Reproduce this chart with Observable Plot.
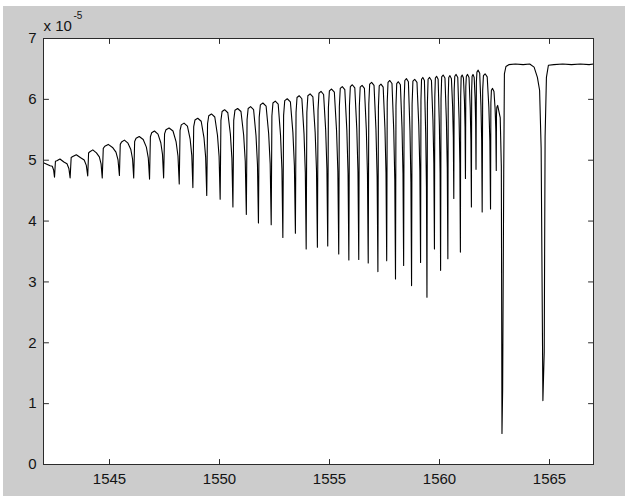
<!DOCTYPE html>
<html>
<head>
<meta charset="utf-8">
<script src="https://cdn.jsdelivr.net/npm/d3@7"></script>
<script src="https://cdn.jsdelivr.net/npm/@observablehq/plot@0.6"></script>
<style>
  html, body { margin: 0; padding: 0; background: #ffffff; }
  #fig { position: absolute; left: 3px; top: 6px; width: 622px; height: 490px; background: #cccccc; }
  #fig svg { display: block; }
  #fig svg text { font-size: 15px; fill: #141414; }
  #fig svg .expo text { font-size: 10px; }
</style>
</head>
<body>
<div id="fig"></div>
<script>
// Transmitted power (units of 1e-5) versus wavelength (nm) through a gas cell.
// Each absorption line is given by its centre, its minimum, and the plateau top after it.
const lineNm = [
  1542.50, 1543.21, 1544.01, 1544.67, 1545.45, 1546.10, 1546.82, 1547.46, 1548.17, 1548.79,
  1549.42, 1550.03, 1550.61, 1551.22, 1551.77, 1552.35, 1552.88, 1553.45, 1553.94, 1554.45,
  1554.92, 1555.42, 1555.88, 1556.33, 1556.76, 1557.20, 1557.60, 1558.00, 1558.37, 1558.73,
  1559.14, 1559.43, 1559.77, 1560.05, 1560.38, 1560.65, 1560.95, 1561.18, 1561.45, 1561.66,
  1561.94, 1562.32, 1562.58
];
const lineMin = [
  4.72, 4.71, 4.74, 4.71, 4.75, 4.71, 4.69, 4.71, 4.61, 4.55,
  4.42, 4.36, 4.23, 4.11, 3.97, 3.94, 3.73, 3.80, 3.54, 3.57,
  3.59, 3.46, 3.36, 3.37, 3.31, 3.17, 3.35, 3.05, 3.27, 2.94,
  3.32, 2.75, 3.54, 3.19, 3.38, 4.37, 3.49, 4.70, 4.23, 4.85,
  4.15, 4.20, 4.83
];
const topAfter = [
  5.02, 5.09, 5.17, 5.26, 5.33, 5.39, 5.48, 5.53, 5.61, 5.69,
  5.76, 5.83, 5.85, 5.88, 5.94, 5.97, 6.01, 6.06, 6.09, 6.13,
  6.17, 6.21, 6.24, 6.23, 6.28, 6.25, 6.31, 6.29, 6.34, 6.33,
  6.36, 6.36, 6.38, 6.40, 6.39, 6.41, 6.40, 6.41, 6.41, 6.48,
  6.42, 6.18, 5.90
];
const startNm = 1542.0;
const startLevel = 4.96;

// Two strong lines past the comb, and the flat band edge after them.
const tailNm = [
  1562.76, 1562.81, 1562.84, 1562.87, 1562.92, 1562.95, 1563.02, 1563.15, 1563.45, 1563.80,
  1564.10, 1564.30, 1564.45, 1564.55, 1564.62, 1564.70, 1564.76, 1564.80, 1564.86, 1564.95,
  1565.20, 1565.60, 1566.00, 1566.40, 1566.80, 1567.00
];
const tailVal = [
  5.70, 4.90, 0.51, 1.22, 4.80, 6.42, 6.54, 6.57, 6.58, 6.57,
  6.58, 6.53, 6.36, 6.15, 5.20, 1.05, 1.85, 5.38, 6.36, 6.56,
  6.57, 6.58, 6.57, 6.58, 6.57, 6.58
];

const xTicks = [1545, 1550, 1555, 1560, 1565];
const yTicks = [0, 1, 2, 3, 4, 5, 6, 7];
const exponentText = "-5";

// Build the trace: plateau, steep notch down to each line minimum, quick recovery.
const trace = [{nm: startNm, p: startLevel}];
let prevX = startNm, prevTop = startLevel;
for (let i = 0; i < lineNm.length; i++) {
  const x = lineNm[i], m = lineMin[i], gp = x - prevX;
  trace.push({nm: prevX + 0.6 * gp, p: prevTop - 0.05});
  trace.push({nm: x - 0.2 * gp, p: prevTop - 0.25 * (prevTop - m)});
  trace.push({nm: x - 0.08 * gp, p: prevTop - 0.5 * (prevTop - m)});
  trace.push({nm: x, p: m});
  const top = topAfter[i];
  const g = (i < lineNm.length - 1 ? lineNm[i + 1] : tailNm[0]) - x;
  trace.push({nm: x + 0.06 * g, p: top - 0.12 * (top - m)});
  trace.push({nm: x + 0.15 * g, p: top - 0.03});
  trace.push({nm: x + 0.35 * g, p: top});
  prevX = x; prevTop = top;
}
tailNm.forEach((nm, i) => trace.push({nm, p: tailVal[i]}));

const font = "'Liberation Sans', Arial, Helvetica, sans-serif";
const axisColor = "#2b2b2b";

// Short straight tick drawn from the frame edge inward (direction set by rotate).
const tickShape = {draw(context, l) { context.moveTo(0, 0); context.lineTo(0, -l); }};
const inwardTicks = (values, channel, frameAnchor, rotate) =>
  Plot.vector(values, {[channel]: (d) => d, frameAnchor, rotate, length: 5, anchor: "start",
    shape: tickShape, stroke: axisColor, strokeWidth: 1});

const chart = Plot.plot({
  width: 622,
  height: 490,
  marginLeft: 40,
  marginRight: 32,
  marginTop: 32,
  marginBottom: 32,
  style: {background: "transparent", fontFamily: font, fontSize: "15px", color: "#141414", overflow: "visible"},
  x: {domain: [1542, 1567], label: null},
  y: {domain: [0, 7], label: null},
  marks: [
    Plot.frame({fill: "white", stroke: null}),
    Plot.line(trace, {x: "nm", y: "p", stroke: "black", strokeWidth: 1.1}),
    Plot.axisX(xTicks, {anchor: "bottom", tickSize: 0, tickPadding: 9, tickFormat: (d) => String(d)}),
    Plot.axisY(yTicks, {anchor: "left", tickSize: 0, tickPadding: 7, tickFormat: (d) => String(d)}),
    inwardTicks(xTicks, "x", "bottom", 0),
    inwardTicks(xTicks, "x", "top", 180),
    inwardTicks(yTicks, "y", "left", 90),
    inwardTicks(yTicks, "y", "right", -90),
    Plot.frame({stroke: axisColor}),
    Plot.text(["x 10"], {frameAnchor: "top-left", textAnchor: "start", lineAnchor: "bottom", dy: -8}),
    Plot.text([exponentText], {frameAnchor: "top-left", textAnchor: "start", lineAnchor: "bottom", dx: 30, dy: -20, className: "expo"})
  ]
});

document.getElementById("fig").appendChild(chart);
</script>
</body>
</html>
